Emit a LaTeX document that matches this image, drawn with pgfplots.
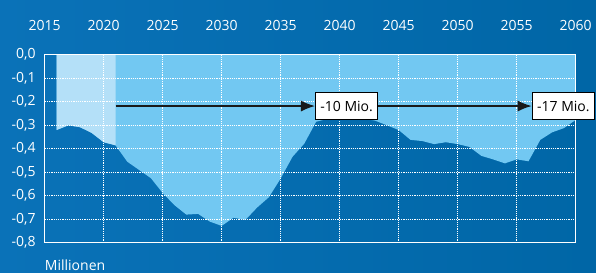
\documentclass[border=0pt]{standalone}
\usepackage{pgfplots}
\pgfplotsset{compat=1.18}
\usepackage{fontspec}
\setmainfont{Open Sans}
\usetikzlibrary{arrows.meta}
\definecolor{bgL}{RGB}{10,114,184}
\definecolor{bgR}{RGB}{0,102,166}
\definecolor{lightc}{RGB}{180,224,248}
\definecolor{midc}{RGB}{114,200,242}
\definecolor{arr}{RGB}{25,25,25}
\tikzset{gridline/.style={draw=white, line width=0.7bp, dash pattern=on 1.2bp off 1bp}}

\pgfplotstableread{
x y
2016 -0.320
2017 -0.300
2018 -0.308
2019 -0.333
2020 -0.372
2021 -0.385
}\lightdata

\pgfplotstableread{
x y
2016 -0.320
2017 -0.300
2018 -0.308
2019 -0.333
2020 -0.372
2021 -0.385
2022 -0.455
2023 -0.490
2024 -0.525
2025 -0.588
2026 -0.640
2027 -0.680
2028 -0.677
2029 -0.710
2030 -0.728
2031 -0.693
2032 -0.703
2033 -0.650
2034 -0.606
2035 -0.526
2036 -0.434
2037 -0.378
2038 -0.285
2039 -0.272
2040 -0.270
2041 -0.270
2042 -0.272
2043 -0.280
2044 -0.300
2045 -0.320
2046 -0.362
2047 -0.367
2048 -0.380
2049 -0.372
2050 -0.380
2051 -0.392
2052 -0.430
2053 -0.445
2054 -0.462
2055 -0.445
2056 -0.453
2057 -0.362
2058 -0.330
2059 -0.312
2060 -0.277
}\middata

\begin{document}
\fontsize{14bp}{17bp}\selectfont
\begin{tikzpicture}
\useasboundingbox (0,0) rectangle (596bp,273bp);
\shade[left color=bgL, right color=bgR] (0,0) rectangle (596bp,273bp);
\begin{axis}[
  at={(44.7bp,30.2bp)}, anchor=south west,
  width=531bp, height=188bp, scale only axis,
  xmin=2015, xmax=2060, ymin=-0.8, ymax=0,
  xtick={2015,2020,...,2060},
  xticklabels={2015,2020,2025,2030,2035,2040,2045,2050,2055,2060},
  ytick={-0.8,-0.7,-0.6,-0.5,-0.4,-0.3,-0.2,-0.1,0},
  yticklabels={{-0,8},{-0,7},{-0,6},{-0,5},{-0,4},{-0,3},{-0,2},{-0,1},{0,0}},
  xticklabel pos=upper,
  major tick length=0pt,
  xticklabel style={anchor=base, yshift=24.8bp, text=white, font=\fontsize{14bp}{17bp}\selectfont},
  yticklabel style={anchor=east, xshift=-4.3bp, text=white, font=\fontsize{14bp}{17bp}\selectfont},
  axis line style={white, line width=0.9bp},
  clip=false,
]
\addplot[fill=midc, draw=none] table[x=x,y=y] {\middata} \closedcycle;
\addplot[fill=lightc, draw=none] table[x=x,y=y] {\lightdata} \closedcycle;
\coordinate (A0) at (axis cs:2021,-0.218);
\coordinate (B1) at (axis cs:2037.9,-0.218);
\coordinate (B2) at (axis cs:2056.27,-0.218);
\end{axis}
% grid lines over the filled areas (axis occupies 44.7..575.7 x 30.2..218.2 bp)
\foreach \k in {1,...,8} {
  \draw[gridline] ({44.7bp+\k*59bp},30.2bp) -- ({44.7bp+\k*59bp},218.2bp);
}
\foreach \k in {1,...,7} {
  \draw[gridline] (44.7bp,{30.2bp+\k*23.5bp}) -- (575.7bp,{30.2bp+\k*23.5bp});
}
\draw[white, line width=0.9bp] (44.7bp,30.2bp) rectangle (575.7bp,218.2bp);
\node[anchor=west, fill=white, draw=black, line width=0.9bp, inner xsep=5bp, minimum height=27bp, text=black] (N1) at (B1) {-10 Mio.};
\node[anchor=west, fill=white, draw=black, line width=0.9bp, inner xsep=5bp, minimum height=27bp, text=black] (N2) at (B2) {-17 Mio.};
\draw[arr, line width=1.3bp, -{Latex[length=14bp,width=11bp]}] (A0) -- (N1.west);
\draw[arr, line width=1.3bp, -{Latex[length=14bp,width=11bp]}] (N1.east) -- (N2.west);
\node[anchor=base west, inner sep=0pt, text=white] at (44.7bp,3bp) {Millionen};
\end{tikzpicture}
\end{document}
